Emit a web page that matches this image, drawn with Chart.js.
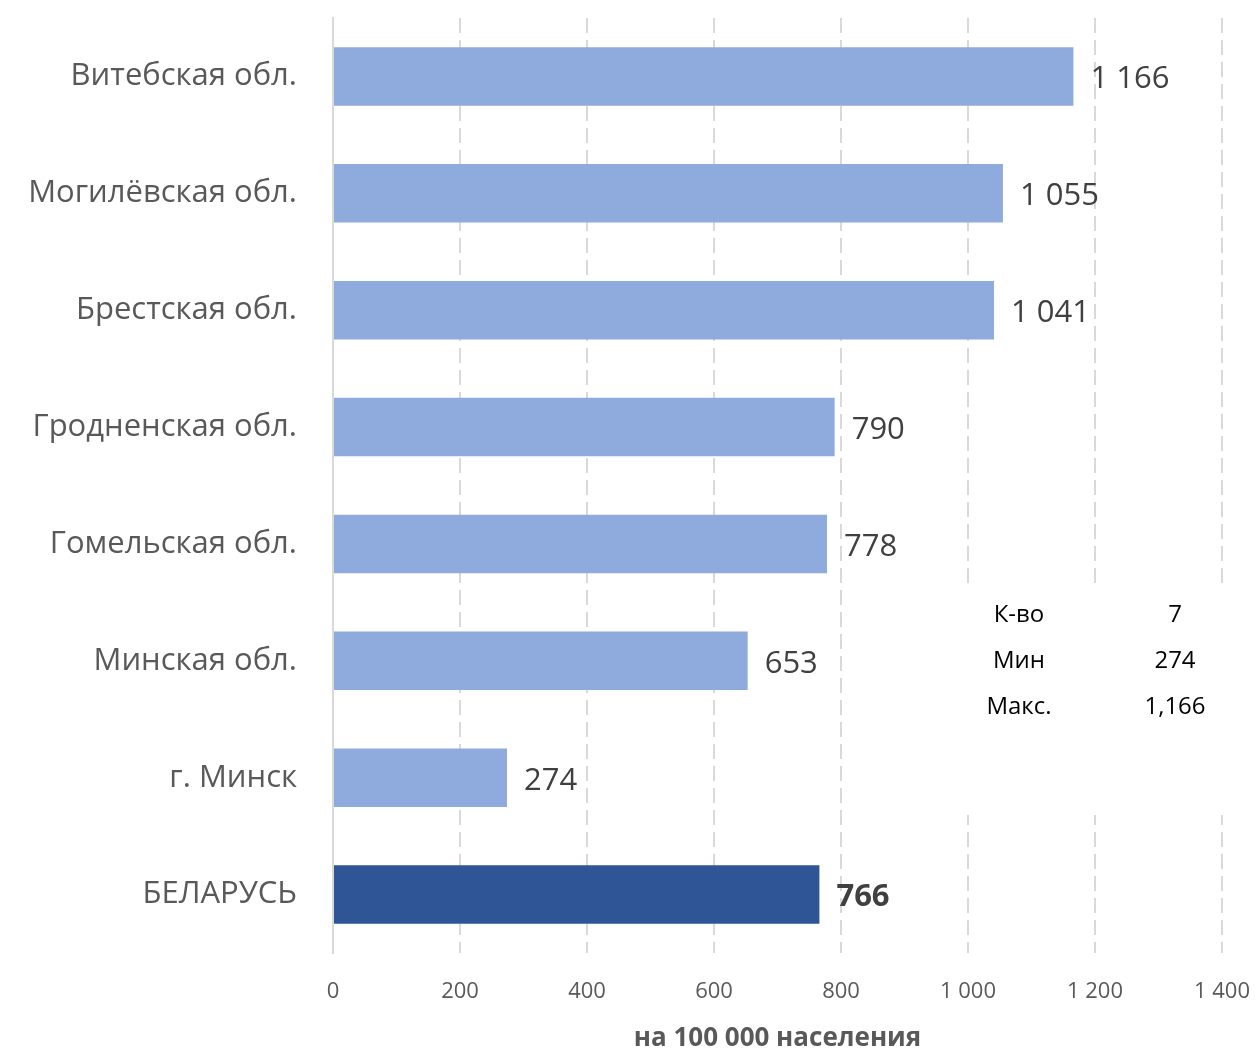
<!DOCTYPE html>
<html>
<head>
<meta charset="utf-8">
<script src="https://cdn.jsdelivr.net/npm/chart.js@4"></script>
<style>
  html, body { margin: 0; padding: 0; background: #ffffff; }
  #wrap { width: 1258px; height: 1054px; }
</style>
</head>
<body>
<div id="wrap"><canvas id="regionsChart" width="1258" height="1054"></canvas></div>
<script>
const regions = ['Витебская обл.', 'Могилёвская обл.', 'Брестская обл.', 'Гродненская обл.',
                 'Гомельская обл.', 'Минская обл.', 'г. Минск', 'БЕЛАРУСЬ'];
const perHundredK = [1166, 1055, 1041, 790, 778, 653, 274, 766];
const xTicks = [0, 200, 400, 600, 800, 1000, 1200, 1400];
const statsLabels = ['К-во', 'Мин', 'Макс.'];

const FONT = '"Open Sans"';
const lightBar = '#8faadc';
const darkBar = '#2f5597';

// 1 166 style numbers
function spaced(v) {
    return String(v).replace(/\B(?=(\d{3})+(?!\d))/g, ' ');
}

// stats over regions only (without the country total)
const regionVals = perHundredK.slice(0, perHundredK.length - 1);
const statsValues = [
    String(regionVals.length),
    String(Math.min(...regionVals)),
    Math.max(...regionVals).toLocaleString('en-US')
];

const barColors = regions.map(r => r === 'БЕЛАРУСЬ' ? darkBar : lightBar);

const valueLabels = {
    id: 'valueLabels',
    afterDatasetsDraw(chart) {
        const { ctx } = chart;
        const meta = chart.getDatasetMeta(0);
        ctx.save();
        ctx.textBaseline = 'middle';
        ctx.textAlign = 'left';
        meta.data.forEach((bar, i) => {
            const last = i === perHundredK.length - 1;
            ctx.font = (last ? 'bold ' : '') + '31px ' + FONT;
            ctx.fillStyle = '#404040';
            ctx.fillText(spaced(perHundredK[i]), bar.x + 17, bar.y + 3);
        });
        ctx.restore();
    }
};

// little summary box that sits over the grid on the right
const statsBox = {
    id: 'statsBox',
    afterDraw(chart) {
        const { ctx } = chart;
        ctx.save();
        ctx.fillStyle = '#ffffff';
        ctx.fillRect(948, 584, 310, 231);
        ctx.font = '24px ' + FONT;
        ctx.fillStyle = '#000000';
        ctx.textAlign = 'center';
        ctx.textBaseline = 'middle';
        statsLabels.forEach((lbl, i) => {
            const y = 615 + i * 46;
            ctx.fillText(lbl, 1019, y);
            ctx.fillText(statsValues[i], 1175, y);
        });
        ctx.restore();
    }
};

const ctx = document.getElementById('regionsChart').getContext('2d');

const regionsChart = new Chart(ctx, {
    type: 'bar',
    data: {
        labels: regions,
        datasets: [{
            data: perHundredK,
            backgroundColor: barColors,
            barPercentage: 0.5,
            categoryPercentage: 1.0
        }]
    },
    options: {
        indexAxis: 'y',
        responsive: false,
        animation: false,
        layout: { padding: { top: 18, right: 36, left: 0, bottom: 0 } },
        plugins: {
            legend: { display: false },
            tooltip: { enabled: false }
        },
        scales: {
            x: {
                min: 0,
                max: 1400,
                afterBuildTicks(scale) {
                    scale.ticks = xTicks.map(v => ({ value: v }));
                },
                afterFit(scale) {
                    scale.height = 101;
                    scale.paddingLeft = 0;
                    scale.paddingRight = 0;
                },
                grid: {
                    color: '#d9d9d9',
                    lineWidth: 2,
                    drawTicks: false
                },
                border: { display: false, dash: [15, 7] },
                ticks: {
                    padding: 26,
                    color: '#595959',
                    font: { family: FONT, size: 22 },
                    callback: v => spaced(v)
                },
                title: {
                    display: true,
                    text: 'на 100 000 населения',
                    color: '#595959',
                    font: { family: FONT, size: 26, weight: 'bold' },
                    padding: { top: 0, bottom: 0 }
                }
            },
            y: {
                afterFit(scale) {
                    scale.width = 333;
                    scale.paddingTop = 0;
                    scale.paddingBottom = 0;
                },
                grid: { display: false, drawTicks: false },
                border: { display: true, color: '#d9d9d9', width: 2 },
                ticks: {
                    padding: 36,
                    color: '#595959',
                    font: { family: FONT, size: 31 }
                }
            }
        }
    },
    plugins: [valueLabels, statsBox]
});
</script>
</body>
</html>
